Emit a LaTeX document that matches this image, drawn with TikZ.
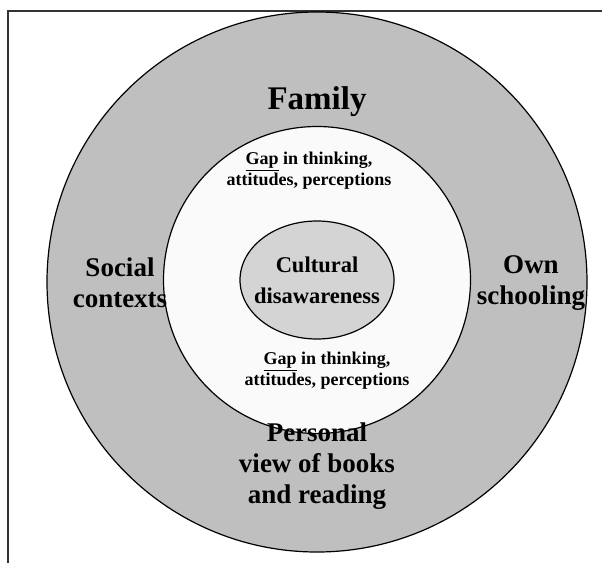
\documentclass[tikz,border=0pt]{standalone}
\usepackage{fontspec}
\setmainfont{Liberation Serif}
\begin{document}
\begin{tikzpicture}[x=1pt,y=-1pt,
  ring/.style={draw=black,line width=1.2pt},
  bigtxt/.style={font=\bfseries\fontsize{27}{31}\selectfont,align=center,inner sep=0pt},
  gaptxt/.style={font=\bfseries\fontsize{18}{21}\selectfont,align=center,inner sep=0pt},
  coretxt/.style={font=\bfseries\fontsize{22.5}{31}\selectfont,align=center,inner sep=0pt},
  frameline/.style={draw=black!80,line width=1.5pt}]
\useasboundingbox (0,0) rectangle (602,565);
% frame
\coordinate (ftr) at (602,11);
\coordinate (ftl) at (8,11);
\coordinate (fbl) at (8,563);
\draw[frameline] (ftr) -- (ftl) -- (fbl);
% rings
\coordinate (c) at (317,282);
\filldraw[ring,fill=black!25] (c) circle [radius=270pt];
\filldraw[ring,fill=black!2] (317,280) circle [radius=153.5pt];
\filldraw[ring,fill=black!17] (317,280) ellipse [x radius=77pt,y radius=59pt];
% texts
\node[bigtxt,font=\bfseries\fontsize{33}{31}\selectfont] (family) at (317,102) {Family};
\node[bigtxt] (social) at (120,283) {Social\\contexts};
\node[bigtxt] (own) at (531,283) {Own\\schooling};
\node[bigtxt] (personal) at (317,466) {Personal\\view of books\\and reading};
\node[coretxt] (core) at (317,280) {Cultural\\disawareness};
\node[gaptxt] (gaptop) at (309,171) {\underline{Gap} in thinking,\\attitudes, perceptions};
\node[gaptxt] (gapbot) at (327,371) {\underline{Gap} in thinking,\\attitudes, perceptions};
\end{tikzpicture}
\end{document}
